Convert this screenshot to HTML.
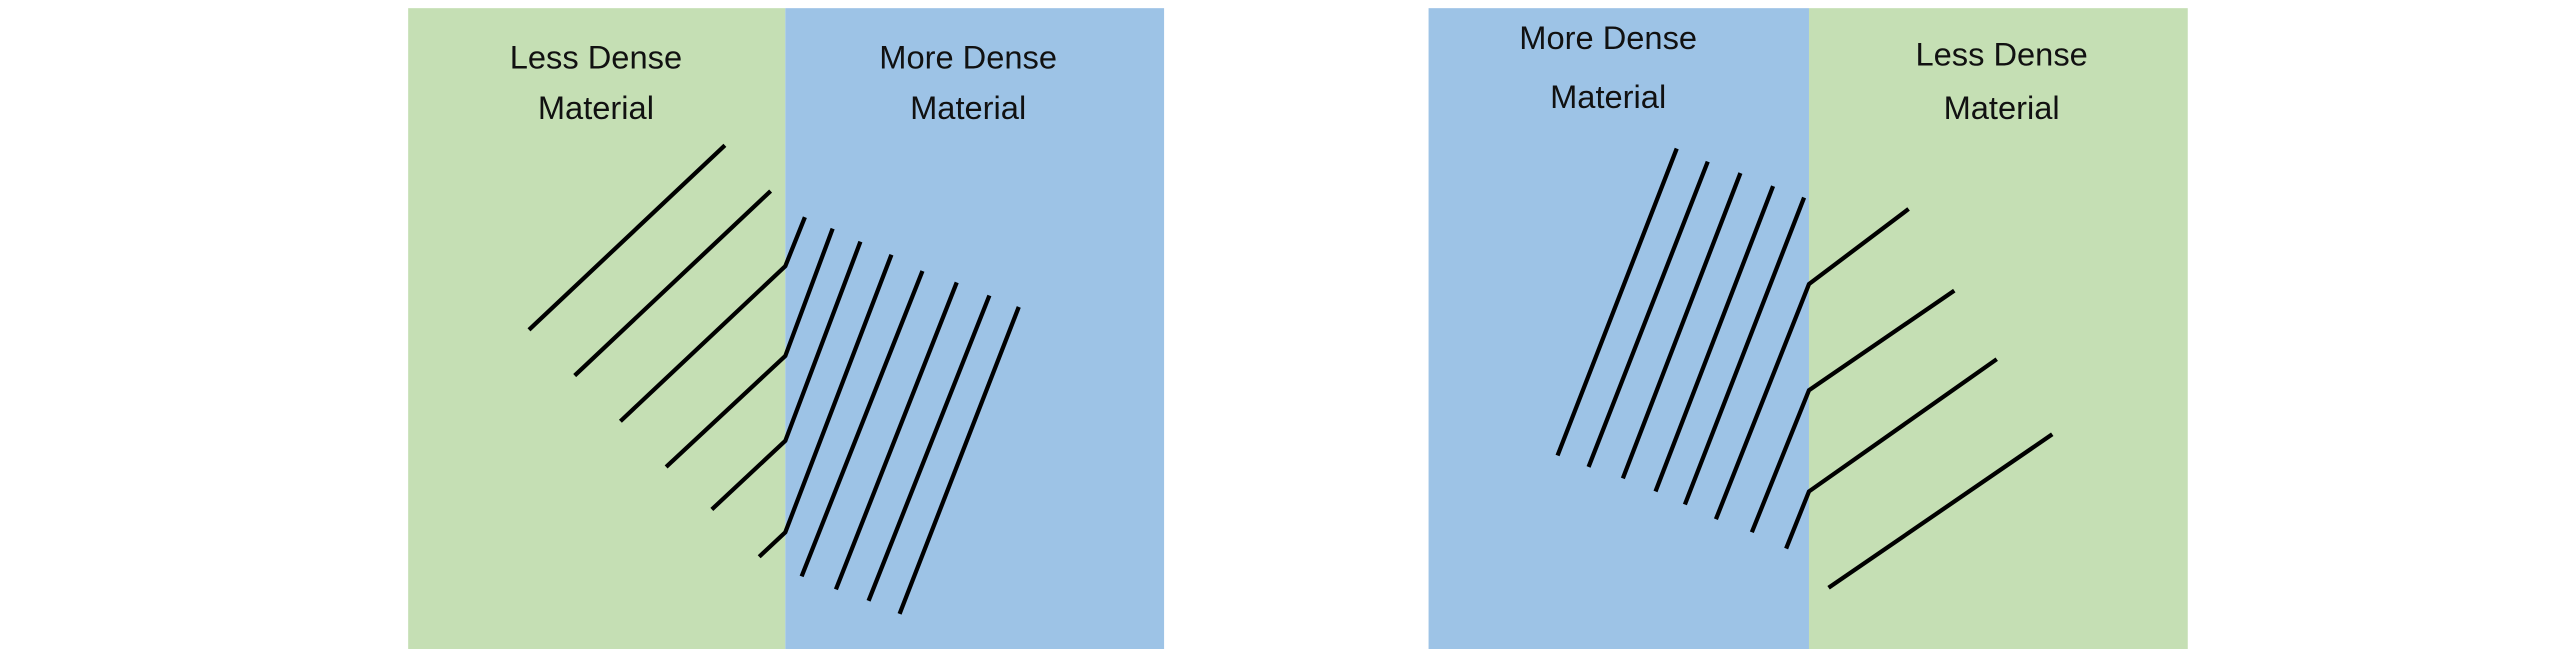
<!DOCTYPE html>
<html><head><meta charset="utf-8"><style>
html,body{margin:0;padding:0;background:#fff;}
svg{display:block}
text{font-family:"Liberation Sans",sans-serif;font-size:20px;fill:#111;text-anchor:middle}
</style></head><body>
<svg width="2560" height="649" viewBox="0 0 1568 397.5" preserveAspectRatio="none">
<rect x="250" y="5" width="231" height="393" fill="#c5dfb4"/>
<rect x="481" y="5" width="232" height="393" fill="#9dc3e6"/>
<rect x="875" y="5" width="233" height="393" fill="#9dc3e6"/>
<rect x="1108" y="5" width="232" height="393" fill="#c5dfb4"/>
<text x="365" y="42">Less Dense</text><text x="365" y="73">Material</text>
<text x="593" y="42">More Dense</text><text x="593" y="73">Material</text>
<text x="985" y="30">More Dense</text><text x="985" y="66">Material</text>
<text x="1226" y="40">Less Dense</text><text x="1226" y="73">Material</text>
<g stroke="#000" stroke-width="2.6" fill="none">
<path d="M324 202L444 89"/>
<path d="M352 230L472 117"/>
<path d="M380 258L481 163L493 133"/>
<path d="M408 286L481 218L510 140"/>
<path d="M436 312L481 270L527 148"/>
<path d="M465 341L481 326L546 156"/>
<path d="M491 353L565 166"/>
<path d="M512 361L586 173"/>
<path d="M532 368L606 181"/>
<path d="M551 376L624 188"/>
<path d="M954 279L1027 91"/>
<path d="M973 286L1046 99"/>
<path d="M994 293L1066 106"/>
<path d="M1014 301L1086 114"/>
<path d="M1032 309L1105 121"/>
<path d="M1051 318L1108 174L1169 128"/>
<path d="M1073 326L1108 239L1197 178"/>
<path d="M1094 336L1108 301L1223 220"/>
<path d="M1120 360L1257 266"/>
</g>
</svg>
</body></html>
